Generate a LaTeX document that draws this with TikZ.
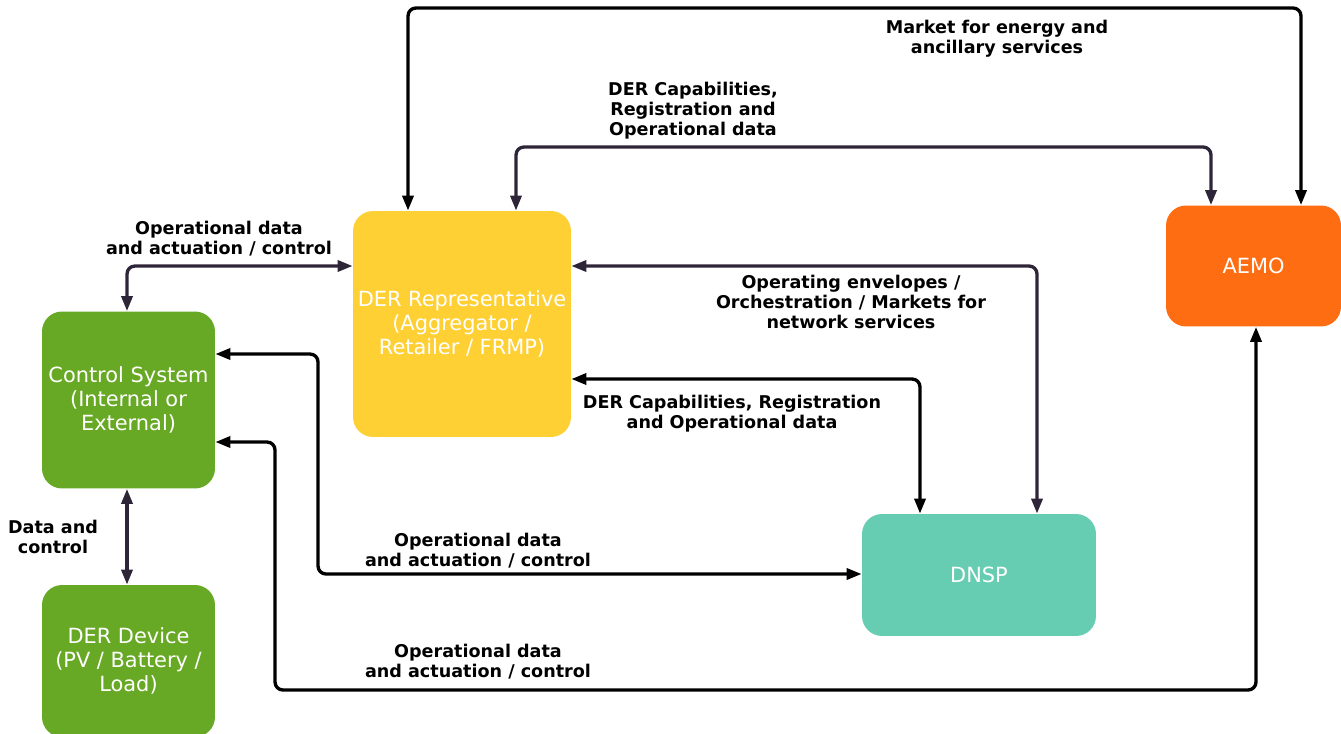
\documentclass[tikz,border=0pt]{standalone}
\usepackage{fontspec}
\setmainfont{DejaVu Sans}
\usetikzlibrary{arrows.meta}
\definecolor{derGreen}{HTML}{67A824}
\definecolor{derYellow}{HTML}{FFD033}
\definecolor{aemoOrange}{HTML}{FF6D12}
\definecolor{dnspTeal}{HTML}{66CCB2}
\definecolor{linkDark}{HTML}{2E2638}
\tikzset{
    box/.style={rounded corners=0.4cm, draw=none, text=white, align=center,
        font=\fontsize{11.9}{13.7}\selectfont, inner sep=0pt},
    link/.style={line width=1.9pt, rounded corners=0.16cm,
        {Triangle[length=0.3cm,width=0.22cm]}-{Triangle[length=0.3cm,width=0.22cm]}},
    lbl/.style={align=center, font=\fontsize{10}{11.4}\selectfont\bfseries, inner sep=0pt}
}
\begin{document}
    \begin{tikzpicture}[x=0.02cm, y=-0.02cm]
        \useasboundingbox (0,0) rectangle (1341,733);
        \node [box, fill=derGreen, minimum width=3.46cm, minimum height=3.54cm] (ctrl) at (128.5,400) {Control System\\(Internal or\\External)};
        \node [box, fill=derGreen, minimum width=3.46cm, minimum height=3.04cm] (dev) at (128.5,661) {DER Device\\(PV / Battery /\\Load)};
        \node [box, fill=derYellow, minimum width=4.36cm, minimum height=4.52cm] (rep) at (462,324) {DER Representative\\(Aggregator /\\Retailer / FRMP)};
        \node [box, fill=aemoOrange, minimum width=3.5cm, minimum height=2.42cm] (aemo) at (1253.5,266) {AEMO};
        \node [box, fill=dnspTeal, minimum width=4.68cm, minimum height=2.44cm] (dnsp) at (979,575) {DNSP};
        \draw [link, black] (408,0 |- rep.north) |- (1301,8) -- (1301,0 |- aemo.north);
        \draw [link, linkDark] (516,0 |- rep.north) |- (1211,147) -- (1211,0 |- aemo.north);
        \draw [link, linkDark] (127,0 |- ctrl.north) |- (0,266 -| rep.west);
        \draw [link, linkDark] (127,0 |- ctrl.south) -- (127,0 |- dev.north);
        \draw [link, linkDark] (0,266 -| rep.east) -| (1037,0 |- dnsp.north);
        \draw [link, black] (0,379 -| rep.east) -| (920,0 |- dnsp.north);
        \draw [link, black] (0,354 -| ctrl.east) -| (318,574) -- (0,574 -| dnsp.west);
        \draw [link, black] (0,442 -| ctrl.east) -| (275,690) -| (1256,0 |- aemo.south);
        \node [lbl] (mkt) at (997,39) {Market for energy and\\ancillary services};
        \node [lbl] (capA) at (693,111) {DER Capabilities,\\Registration and\\Operational data};
        \node [lbl] (opA) at (219,239) {Operational data\\and actuation / control};
        \node [lbl] (dc) at (53,537) {Data and\\control};
        \node [lbl] (env) at (851,302) {Operating envelopes /\\Orchestration / Markets for\\network services};
        \node [lbl] (capB) at (732,414) {DER Capabilities, Registration\\and Operational data};
        \node [lbl] (opB) at (478,551) {Operational data\\and actuation / control};
        \node [lbl] (opC) at (478,662) {Operational data\\and actuation / control};
    \end{tikzpicture}
\end{document}
